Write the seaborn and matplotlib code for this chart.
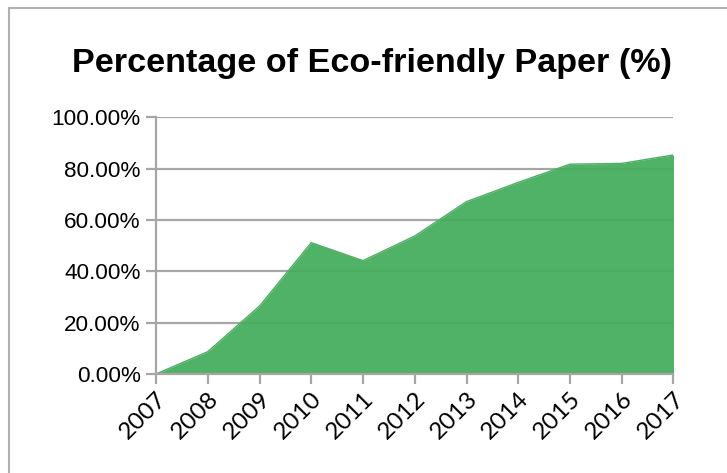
import matplotlib
matplotlib.use("Agg")
import matplotlib.pyplot as plt
import matplotlib.lines as mlines
import seaborn as sns
import pandas as pd
from matplotlib.ticker import FuncFormatter

years = [2007, 2008, 2009, 2010, 2011, 2012, 2013, 2014, 2015, 2016, 2017]
percent = [0.0, 8.7, 26.5, 51.2, 44.2, 53.8, 67.2, 74.7, 81.8, 82.1, 85.4]
y_ticks = [0, 20, 40, 60, 80, 100]
title = "Percentage of Eco-friendly Paper (%)"

df = pd.DataFrame({"Year": years, "Percent": percent})

sns.set_theme(style="white")
plt.rcParams["font.family"] = ["Liberation Sans", "DejaVu Sans"]

fig = plt.figure(figsize=(7.27, 4.73), dpi=100)
ax = fig.add_axes([0.2146, 0.2093, 0.7118, 0.5423])

grid_color = "#a6a6a6"
green = "#43ac5a"

ax.set_xlim(2007, 2017)
ax.set_ylim(0, 100)
ax.set_yticks(y_ticks)
ax.set_xticks(years)
for t in y_ticks[1:]:
    ax.axhline(t, color=grid_color, lw=1.6, zorder=1)

ax.fill_between(df["Year"], df["Percent"], 0, color=green, alpha=0.93, lw=0, zorder=2)
sns.lineplot(data=df, x="Year", y="Percent", ax=ax, color="#4caf62", lw=1.0, zorder=3)

ax.yaxis.set_major_formatter(FuncFormatter(lambda v, p: f"{v:.2f}%"))
ax.set_xticklabels([str(y) for y in years], rotation=45, ha="right", rotation_mode="anchor",
                   fontsize=17.5, family=["Lato", "DejaVu Sans"], color="black")
ax.set_xlabel("")
ax.set_ylabel("")
ax.tick_params(axis="y", labelsize=16.2, length=7, width=1.6, color=grid_color, pad=4, left=True)
ax.tick_params(axis="x", length=7, width=1.6, color=grid_color, pad=3, bottom=True)
for lbl in ax.get_yticklabels():
    lbl.set_color("black")

for s in ["top", "right"]:
    ax.spines[s].set_visible(False)
for s in ["left", "bottom"]:
    ax.spines[s].set_color(grid_color)
    ax.spines[s].set_linewidth(1.6)
    ax.spines[s].set_zorder(4)

fig.text(0.512, 0.866, title, ha="center", va="center", fontsize=24.6, fontweight="bold", color="black")

# outer frame (left and top only visible)
fig.add_artist(mlines.Line2D([9/727, 9/727], [0, 1 - 8/473], transform=fig.transFigure, color="#b0b0b0", lw=1.5))
fig.add_artist(mlines.Line2D([9/727, 1], [1 - 8/473, 1 - 8/473], transform=fig.transFigure, color="#b0b0b0", lw=1.5))

fig.savefig("out.png", dpi=100)
